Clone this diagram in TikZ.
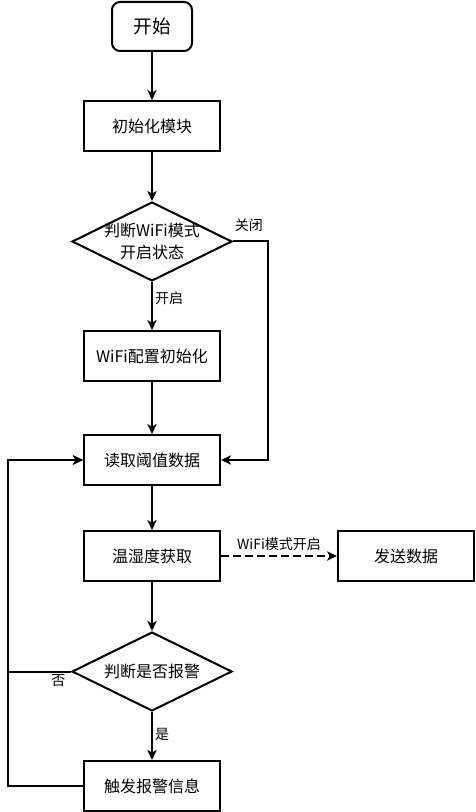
\documentclass[tikz,border=0pt]{standalone}
\usepackage{fontspec}
\setmainfont{Noto Sans CJK SC}
\usetikzlibrary{arrows.meta,shapes.geometric}

\tikzset{
  box/.style={draw,minimum width=102pt,minimum height=37.5pt,inner sep=0pt,font=\fontsize{12}{16}\selectfont},
  startbox/.style={box,rounded corners=6pt,minimum width=60pt,minimum height=36.75pt,font=\fontsize{14}{16}\selectfont},
  decision/.style={draw,diamond,inner sep=0pt,minimum width=120pt,minimum height=59.25pt},
  dtxt/.style={align=center,inner sep=0pt,font=\fontsize{12}{16}\selectfont},
  lbl/.style={inner sep=1.5pt,font=\fontsize{10.5}{12}\selectfont},
}

\begin{document}
\begin{tikzpicture}[x=0.75pt,y=-0.75pt,line width=1.5pt,>={Stealth[length=7.5pt,width=7pt,inset=2pt]}]
	\useasboundingbox (0,0) rectangle (475,812);
	% main column
	\node[startbox] (start) at (152,26.5) {开始};
	\node[box] (init) at (152,126) {初始化模块};
	\node[decision,label={[dtxt]center:判断WiFi模式\\开启状态}] (wifi) at (152,241.5) {};
	\node[box] (cfg) at (152,356) {WiFi配置初始化};
	\node[box] (read) at (152,460) {读取阈值数据};
	\node[box] (meas) at (152,556) {温湿度获取};
	\node[box] (send) at (406,556) {发送数据};
	\node[decision,label={[dtxt]center:判断是否报警}] (alarm) at (152,671.5) {};
	\node[box] (trig) at (152,786) {触发报警信息};
	% corners of the side paths
	\coordinate (offR) at (268,241.5);
	\coordinate (noL) at (8,671.5);
	\coordinate (trigL) at (8,786);

	\draw[->] (start) -- (init);
	\draw[->] (init) -- (wifi);
	\draw[->] (wifi) -- node[lbl,right,pos=0.34]{开启} (cfg);
	\draw[->] (wifi.east) -- node[lbl,above=5pt,pos=0.45]{关闭} (offR) |- (read.east);
	\draw[->] (cfg) -- (read);
	\draw[->] (read) -- (meas);
	\draw[->,dash pattern=on 6pt off 3pt] (meas) -- node[lbl,above=2pt]{WiFi模式开启} (send);
	\draw[->] (meas) -- (alarm);
	\draw[->] (alarm) -- node[lbl,right,pos=0.46]{是} (trig);
	\draw[->] (alarm.west) -- node[lbl,below,pos=0.2]{否} (noL) |- (read.west);
	\draw[->] (trig.west) -- (trigL) |- (read.west);
\end{tikzpicture}
\end{document}
